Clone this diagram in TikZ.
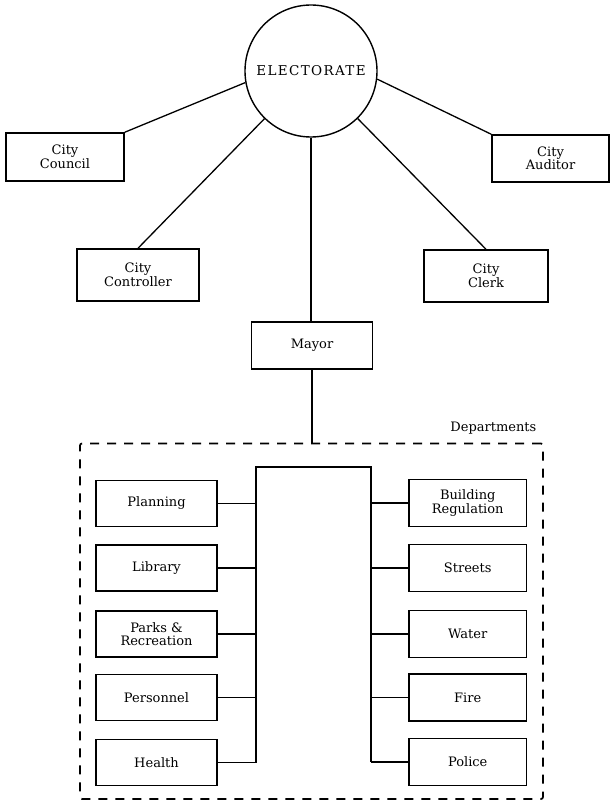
\documentclass[tikz,border=0pt]{standalone}
\usepackage{fontspec}
\setmainfont{DejaVu Serif}
\newfontfamily\spacedserif[LetterSpace=10]{DejaVu Serif}
\usetikzlibrary{calc}
\begin{document}
\begin{tikzpicture}[x=1pt,y=-1pt,
  every node/.style={font=\fontsize{13}{13.5}\selectfont},
  office/.style={draw, line width=1.5pt, align=center, inner sep=0pt,
                 minimum width=#1, minimum height=47pt},
  office/.default=121pt,
  dept/.style={office=121pt, minimum height=46pt},
  rdept/.style={office=117.5pt, minimum height=47pt},
  link/.style={line width=1.3pt},
  deptframe/.style={draw, line width=1.7pt, dash pattern=on 9pt off 8pt,
                    rounded corners=2pt, inner sep=0pt}]
\useasboundingbox (0,0) rectangle (611,802);

% electorate and elected offices
\node[draw, circle, line width=1.4pt, minimum size=132pt, inner sep=0pt,
      font=\spacedserif\fontsize{13.5}{14}\selectfont] (elect) at (311,71) {ELECTORATE};
\node[office=118pt, minimum height=48pt] (council) at (65,157) {City\\Council};
\node[office=117pt] (auditor) at (550.5,158.5) {City\\Auditor};
\node[office=122pt, minimum height=52pt] (controller) at (138,275) {City\\Controller};
\node[office=124pt, minimum height=52pt] (clerk) at (486,276) {City\\Clerk};
\node[office=121pt] (mayor) at (312,345.5) {Mayor};

\draw[link] (elect.190) -- (council.north east);
\draw[link] (elect.-7) -- (auditor.north west);
\draw[link] (elect) -- (controller.north);
\draw[link] (elect) -- (clerk.north);
\draw[link] (elect.south) -- (elect.south |- mayor.north);

% departments group
\node[deptframe, minimum width=463pt, minimum height=355.5pt] (group) at (311.5,621.25) {};
\node[anchor=east] (grouplabel) at ($(group.north east)+(-4,-14.5)$) {Departments};
\draw[link] (mayor.south) -- (mayor.south |- group.north);

% left column
\node[dept] (planning) at (156.5,503.5) {Planning};
\node[dept] (library) at (156.5,568) {Library};
\node[dept] (parks) at (156.5,634) {Parks \&\\Recreation};
\node[dept] (personnel) at (156.5,697.5) {Personnel};
\node[dept] (health) at (156.5,762.5) {Health};

% right column
\node[rdept] (building) at (467.75,503) {Building\\Regulation};
\node[rdept] (streets) at (467.75,568) {Streets};
\node[rdept] (water) at (467.75,634) {Water};
\node[rdept] (fire) at (467.75,697.5) {Fire};
\node[rdept] (police) at (467.75,762) {Police};

% central frame
\coordinate (tl) at (256,467);
\coordinate (tr) at (371,467);
\draw[line width=1.4pt] (tl |- health.east) -- (tl) -- (tr) -- (tr |- police.west);

\foreach \d in {planning,library,parks,personnel,health}
  \draw[link] (\d.east) -- (\d.east -| tl);
\foreach \d in {building,streets,water,fire,police}
  \draw[link] (\d.west) -- (\d.west -| tr);
\end{tikzpicture}
\end{document}
